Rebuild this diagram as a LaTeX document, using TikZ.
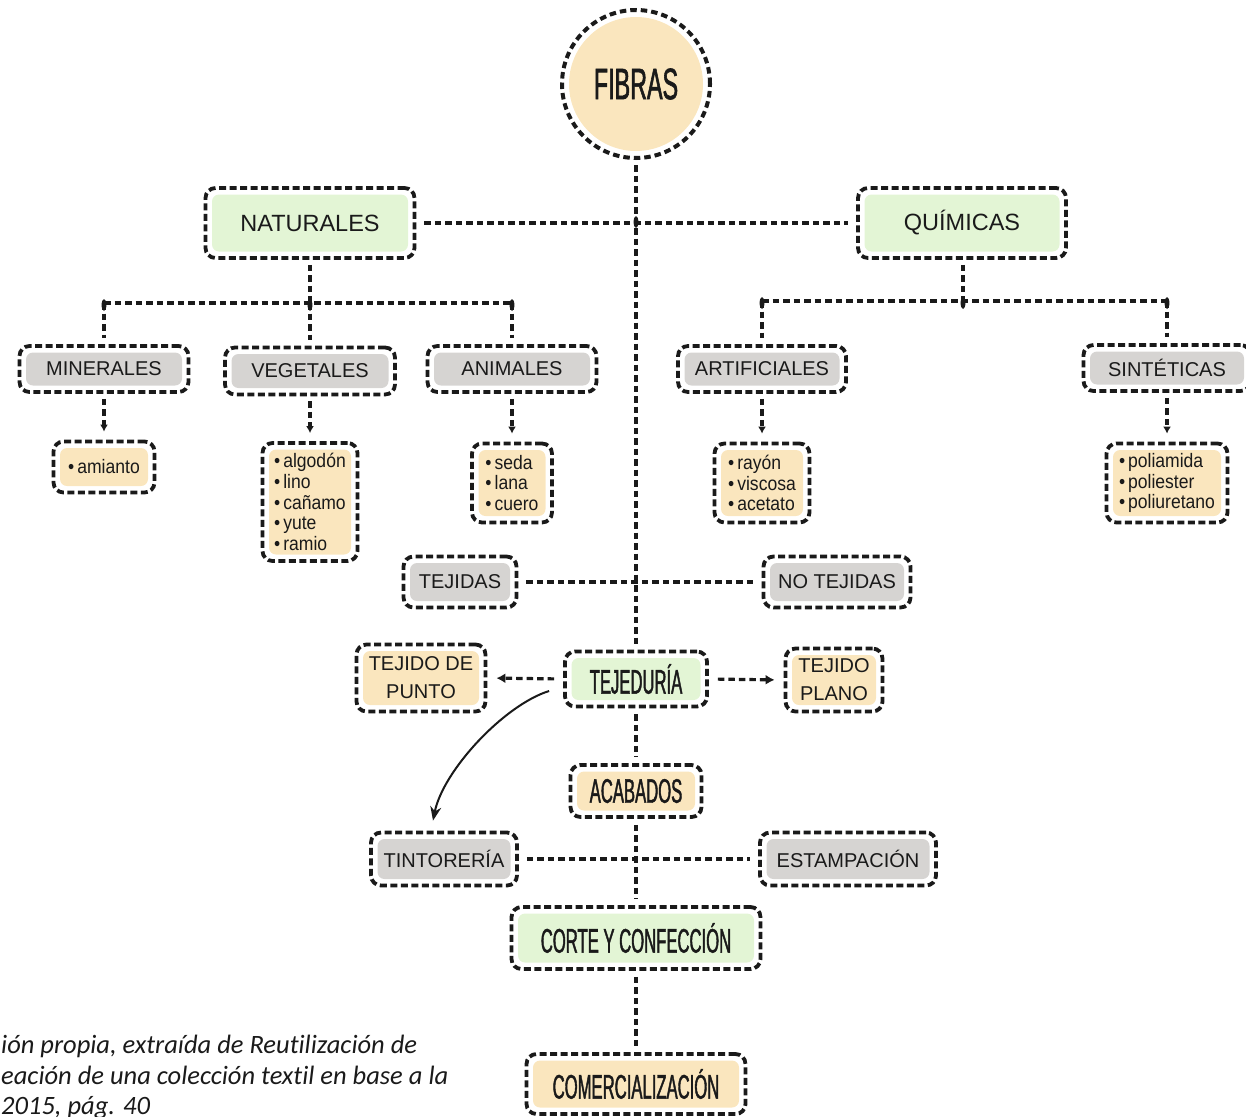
\documentclass[tikz,border=0pt]{standalone}
\usepackage{fontspec}
\setmainfont{Liberation Sans}
\newfontfamily\condfont[FakeStretch=0.49,FakeBold=1.2]{Liberation Sans}
\newfontfamily\fibfont[FakeStretch=0.53,FakeBold=1.3]{Liberation Sans}
\newfontfamily\listfont[FakeStretch=0.9]{Liberation Sans}
\newfontfamily\notefont[Ligatures={NoCommon}]{Carlito}
\usetikzlibrary{arrows.meta,calc}

\definecolor{greenfill}{HTML}{E3F5D5}
\definecolor{yellowfill}{HTML}{FAE6BE}
\definecolor{greyfill}{HTML}{D6D4D2}
\definecolor{ink}{HTML}{1A1A1A}

\tikzset{
  framed/.style={draw=ink, line width=3.8pt, dash pattern=on 7pt off 3.5pt,
    rounded corners=10pt, inner sep=0pt, align=center, text=ink,
    path picture={\fill[#1, rounded corners=7pt]
      ([shift={(6.5pt,6.5pt)}]path picture bounding box.south west) rectangle
      ([shift={(-6.5pt,-6.5pt)}]path picture bounding box.north east);}},
  wh/.style 2 args={minimum width=#1, minimum height=#2},
  maintext/.style={font=\fontsize{23.5}{28}\selectfont},
  greytext/.style={font=\fontsize{20}{28}\selectfont},
  condtext/.style={font=\condfont\fontsize{34}{34}\selectfont},
  listtext/.style={font=\listfont\fontsize{19.5}{20.7}\selectfont, align=left},
  link/.style={draw=ink, line width=3.2pt, dash pattern=on 6.5pt off 4pt},
  droptip/.style={-{Latex[length=7pt,width=8pt]}},
  sidetip/.style={-{Latex[length=9pt,width=10pt]}},
  notetext/.style={font=\notefont\itshape\fontsize{26.5}{26.5}\selectfont, text=ink,
    anchor=base west, inner sep=0pt},
}
\newcommand{\itm}{\textbullet\kern3pt}

\begin{document}
\begin{tikzpicture}[x=1pt, y=-1pt]
\useasboundingbox (0,0) rectangle (1246,1116);
\clip (0,0) rectangle (1246,1116);

% root
\node[circle, draw=ink, line width=4pt, dash pattern=on 6.5pt off 4pt,
  minimum size=148pt, inner sep=0pt, text=ink,
  path picture={\fill[yellowfill] (path picture bounding box.center) circle (67pt);}]
  (fib) at (636,84) {\fibfont\fontsize{44}{44}\selectfont FIBRAS};

% first level
\node[framed=greenfill, wh={209pt}{70pt}, maintext] (nat) at (310,223) {NATURALES};
\node[framed=greenfill, wh={208pt}{70pt}, maintext] (quim) at (962,223) {QUÍMICAS};

% second level
\node[framed=greyfill, wh={169pt}{46pt}, greytext] (min) at (104,369) {MINERALES};
\node[framed=greyfill, wh={170pt}{47pt}, greytext] (veg) at (310,371) {VEGETALES};
\node[framed=greyfill, wh={169pt}{46pt}, greytext] (ani) at (512,369) {ANIMALES};
\node[framed=greyfill, wh={168pt}{46pt}, greytext] (art) at (762,369) {ARTIFICIALES};
\node[framed=greyfill, wh={167pt}{46pt}, greytext] (sin) at (1167,368) {SINTÉTICAS};

% examples
\node[framed=yellowfill, wh={101pt}{51pt}, listtext] (min-l) at (104,467) {\itm amianto};
\node[framed=yellowfill, wh={95pt}{118pt}, listtext] (veg-l) at (310,502)
  {\itm algodón\\\itm lino\\\itm cañamo\\\itm yute\\\itm ramio};
\node[framed=yellowfill, wh={80pt}{79pt}, listtext] (ani-l) at (512,483)
  {\itm seda\\\itm lana\\\itm cuero};
\node[framed=yellowfill, wh={95pt}{79pt}, listtext] (art-l) at (762,483)
  {\itm rayón\\\itm viscosa\\\itm acetato};
\node[framed=yellowfill, wh={121pt}{79pt}, listtext] (sin-l) at (1167,483)
  {\itm poliamida\\\itm poliester\\\itm poliuretano};

% fabrics
\node[framed=greyfill, wh={113pt}{51pt}, greytext] (tejidas) at (460,582) {TEJIDAS};
\node[framed=greyfill, wh={147pt}{51pt}, greytext] (notejidas) at (837,582) {NO TEJIDAS};

% process chain
\node[framed=greenfill, wh={142pt}{55pt}, condtext] (tej) at (636,679) {TEJEDURÍA};
\node[framed=yellowfill, wh={129pt}{67pt}, greytext] (punto) at (421,678) {TEJIDO DE\\PUNTO};
\node[framed=yellowfill, wh={97pt}{63pt}, greytext] (plano) at (834,680) {TEJIDO\\PLANO};
\node[framed=yellowfill, wh={131pt}{52pt}, condtext] (acab) at (636,791) {ACABADOS};
\node[framed=greyfill, wh={146pt}{53pt}, greytext] (tint) at (444,859) {TINTORERÍA};
\node[framed=greyfill, wh={176pt}{53pt}, greytext] (estamp) at (848,859) {ESTAMPACIÓN};
\node[framed=greenfill, wh={249pt}{62pt}, condtext] (corte) at (636,938) {CORTE Y CONFECCIÓN};
\node[framed=yellowfill, wh={219pt}{60pt}, condtext] (comer) at (636,1084) {COMERCIALIZACIÓN};

% junction points
\coordinate (jn) at (310,303);
\coordinate (jq) at (963,301);

% spine
\draw[link, shorten <=5pt, shorten >=6pt] (fib.south) -- (tej.north);
\draw[link, shorten <=6pt, shorten >=6pt] (tej.south) -- (acab.north);
\draw[link, shorten <=6pt, shorten >=6pt] (acab.south) -- (corte.north);
\draw[link, shorten <=6pt, shorten >=6pt] (corte.south) -- (comer.north);

% cross links
\draw[link, shorten <=8pt, shorten >=8pt] (nat.east) -- (quim.west);
\draw[link, shorten <=8pt, shorten >=8pt] (tejidas.east) -- (notejidas.west);
\draw[link, shorten <=8pt, shorten >=8pt] (tint.east) -- (estamp.west);

% natural branch
\draw[link, shorten <=5pt] (nat.south) -- (jn);
\draw[link] (min.north |- jn) -- (ani.north |- jn);
\foreach \n in {min,veg,ani}
  \draw[link, shorten >=6pt] (\n.north |- jn) -- (\n.north);

% chemical branch
\draw[link, shorten <=5pt] (quim.south -| jq) -- (jq);
\draw[link] (art.north |- jq) -- (sin.north |- jq);
\foreach \n in {art,sin}
  \draw[link, shorten >=6pt] (\n.north |- jq) -- (\n.north);

% junction marks
\foreach \p in {(636,222),(310,305),(104,305),(512,305),(762,303),(963,303),(1167,303)}
  \fill[ink] \p ellipse (2.4pt and 6pt);

% to examples
\foreach \n in {min,veg,ani,art,sin}
  \draw[link, droptip, shorten <=5pt, shorten >=8pt] (\n.south) -- (\n-l.north);

% weaving outputs
\draw[link, sidetip, shorten <=9pt, shorten >=9pt] (tej.west) -- (punto.east);
\draw[link, sidetip, shorten <=9pt, shorten >=9pt] (tej.east) -- (plano.west);
\draw[draw=ink, line width=2pt, -{Stealth[length=14pt,width=11pt]}]
  ([xshift=-14pt,yshift=-12pt]tej.west) .. controls +(-45,14) and +(10,-50) ..
  ([xshift=-11pt,yshift=10pt]tint.north);

% source note
\node[notetext] (note1) at (1,1053) {ión propia, extraída de Reutilización de};
\node[notetext] (note2) at (1,1084) {eación de una colección textil en base a la};
\node[notetext] (note3) at (1,1114) {2015, pág. 40};
\end{tikzpicture}
\end{document}
